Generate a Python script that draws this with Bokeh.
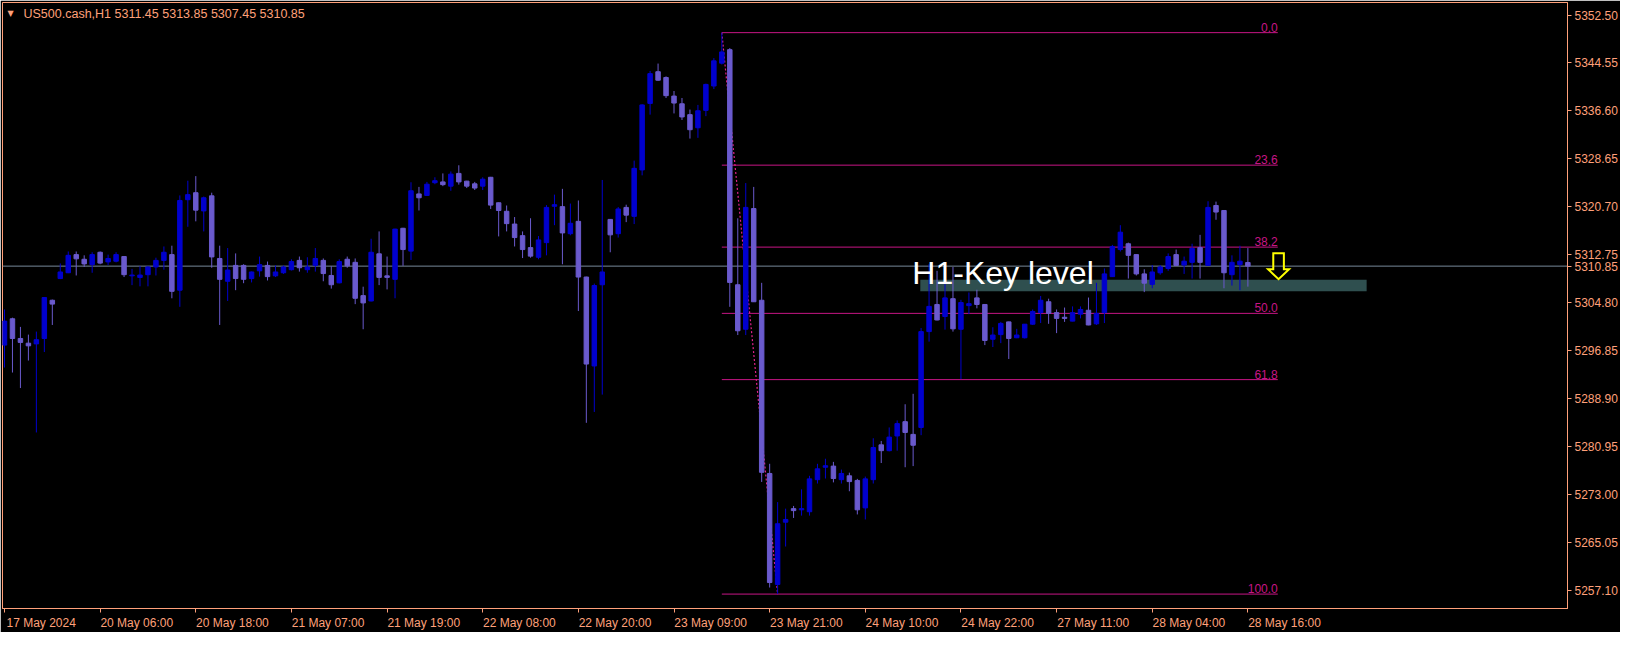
from bokeh.plotting import figure
from bokeh.models import ColumnDataSource, FixedTicker, Range1d, NumeralTickFormatter, Span
from bokeh.embed import file_html
from bokeh.resources import INLINE
from bokeh.core.properties import value

# ---------------- data ----------------
symbol = "US500.cash,H1"

opens = [5297.75, 5302.12, 5298.85, 5298.07, 5297.95, 5298.85, 5305.19, 5308.79, 5309.75, 5312.76,
         5311.99, 5311.10, 5313.15, 5311.55, 5311.67, 5312.44, 5309.24, 5308.98, 5309.43, 5310.71,
         5311.80, 5312.76, 5306.86, 5321.87, 5323.03, 5320.01, 5322.51, 5312.12, 5308.34, 5310.97,
         5310.97, 5308.79, 5310.07, 5310.97, 5309.24, 5309.75, 5310.26, 5311.80, 5310.26, 5310.97,
         5311.80, 5309.30, 5308.08, 5311.99, 5311.48, 5305.96, 5305.07, 5312.89, 5309.24, 5308.66,
         5317.13, 5313.34, 5322.83, 5322.58, 5324.69, 5324.82, 5324.12, 5326.23, 5324.95, 5324.50,
         5324.12, 5325.59, 5321.36, 5319.95, 5317.83, 5315.91, 5313.92, 5312.32, 5314.75, 5320.78,
         5320.72, 5316.23, 5318.28, 5309.04, 5294.29, 5307.76, 5318.60, 5316.23, 5320.59, 5319.11,
         5326.81, 5337.84, 5343.10, 5342.14, 5339.06, 5337.78, 5335.98, 5333.80, 5336.69, 5340.73,
         5344.52, 5346.76, 5307.76, 5300.38, 5320.40, 5305.19, 5276.46, 5258.05, 5268.38, 5270.62,
         5270.43, 5270.11, 5275.43, 5277.49, 5277.68, 5275.43, 5276.07, 5275.30, 5270.75, 5275.43,
         5281.21, 5280.24, 5282.68, 5285.05, 5282.94, 5284.09, 5299.99, 5304.49, 5302.50, 5305.45,
         5300.38, 5304.30, 5305.58, 5304.49, 5298.72, 5299.49, 5301.60, 5298.97, 5298.97, 5301.22,
         5303.14, 5304.94, 5303.14, 5302.37, 5301.73, 5302.88, 5303.53, 5301.28, 5303.14, 5309.11,
         5313.60, 5314.56, 5312.76, 5309.56, 5307.82, 5309.75, 5310.46, 5312.76, 5311.03, 5311.48,
         5313.92, 5310.97, 5320.91, 5320.08, 5309.43, 5311.10, 5311.45]
highs = [5303.66, 5302.30, 5300.77, 5299.49, 5299.99, 5305.70, 5305.30, 5311.29, 5313.28, 5313.28,
         5312.64, 5313.15, 5313.28, 5312.76, 5313.15, 5312.50, 5310.39, 5310.84, 5310.84, 5312.25,
         5314.11, 5314.24, 5322.58, 5325.02, 5325.78, 5322.39, 5323.03, 5314.24, 5313.85, 5312.96,
         5311.16, 5309.95, 5312.44, 5311.61, 5310.97, 5310.97, 5311.99, 5312.44, 5312.32, 5313.85,
         5312.12, 5310.84, 5311.99, 5312.44, 5312.12, 5307.44, 5315.39, 5316.61, 5312.44, 5317.05,
         5317.20, 5324.76, 5323.99, 5324.82, 5325.59, 5326.23, 5326.55, 5327.58, 5325.00, 5324.82,
         5325.59, 5325.65, 5321.40, 5320.91, 5318.99, 5316.61, 5318.79, 5315.84, 5320.97, 5322.71,
         5323.67, 5321.23, 5321.74, 5309.10, 5307.95, 5325.14, 5318.65, 5320.65, 5321.04, 5328.35,
         5337.70, 5343.23, 5344.45, 5342.33, 5339.90, 5338.74, 5336.82, 5337.59, 5341.12, 5345.35,
         5349.58, 5347.02, 5318.79, 5324.63, 5323.99, 5308.08, 5278.06, 5271.71, 5270.62, 5271.07,
         5273.83, 5276.07, 5278.06, 5278.90, 5278.38, 5277.10, 5276.59, 5275.56, 5275.94, 5282.30,
         5281.85, 5284.09, 5285.25, 5287.94, 5289.67, 5300.58, 5311.22, 5310.07, 5308.47, 5310.71,
         5305.26, 5306.48, 5306.93, 5304.55, 5300.71, 5301.60, 5301.65, 5300.45, 5301.25, 5303.66,
         5305.90, 5305.45, 5303.66, 5303.98, 5304.17, 5304.17, 5305.64, 5308.08, 5310.46, 5314.37,
         5317.64, 5314.75, 5312.80, 5310.33, 5311.03, 5311.03, 5312.96, 5313.60, 5312.44, 5314.56,
         5316.04, 5321.61, 5321.55, 5320.10, 5312.64, 5314.24, 5313.85]
lows = [5294.03, 5293.20, 5290.63, 5295.19, 5283.26, 5296.60, 5301.09, 5308.70, 5309.70, 5309.30,
        5310.71, 5309.75, 5311.16, 5311.03, 5311.48, 5309.04, 5307.70, 5307.50, 5307.50, 5309.30,
        5310.26, 5305.52, 5304.10, 5317.38, 5318.28, 5316.61, 5310.58, 5301.09, 5305.07, 5306.86,
        5308.02, 5308.15, 5309.11, 5308.47, 5309.04, 5309.56, 5310.13, 5309.94, 5309.75, 5309.94,
        5308.34, 5307.12, 5308.00, 5310.58, 5304.55, 5300.38, 5305.00, 5307.70, 5306.99, 5305.52,
        5310.90, 5311.87, 5320.08, 5322.50, 5324.44, 5324.12, 5323.35, 5324.37, 5323.80, 5323.48,
        5323.48, 5320.33, 5315.78, 5316.61, 5314.11, 5312.19, 5312.25, 5311.99, 5312.64, 5317.64,
        5311.16, 5315.97, 5303.40, 5284.86, 5286.66, 5289.54, 5313.15, 5315.59, 5318.15, 5317.83,
        5325.91, 5335.98, 5341.60, 5338.74, 5336.18, 5335.09, 5332.01, 5332.13, 5335.73, 5340.22,
        5344.30, 5304.10, 5299.42, 5299.42, 5304.90, 5275.05, 5257.54, 5256.45, 5264.34, 5269.08,
        5269.47, 5269.47, 5274.79, 5275.62, 5274.98, 5274.79, 5273.51, 5269.66, 5268.83, 5274.79,
        5278.19, 5280.12, 5280.24, 5277.49, 5277.68, 5282.81, 5298.33, 5301.85, 5300.32, 5299.99,
        5292.11, 5302.88, 5303.85, 5297.75, 5297.43, 5298.08, 5295.45, 5298.90, 5298.85, 5301.09,
        5301.41, 5301.28, 5299.74, 5301.60, 5301.70, 5302.18, 5301.05, 5301.09, 5301.41, 5309.05,
        5313.28, 5308.79, 5309.30, 5306.54, 5307.18, 5309.43, 5310.07, 5310.90, 5309.56, 5308.79,
        5308.79, 5310.90, 5318.54, 5307.18, 5307.63, 5306.86, 5307.45]
closes = [5301.73, 5298.85, 5298.20, 5297.63, 5298.65, 5305.64, 5304.55, 5309.88, 5312.64, 5312.06,
          5311.22, 5312.76, 5311.35, 5312.12, 5312.76, 5309.43, 5309.37, 5309.37, 5310.71, 5311.80,
          5313.15, 5306.67, 5321.74, 5322.71, 5320.14, 5322.19, 5312.38, 5308.66, 5310.20, 5308.79,
          5308.66, 5309.88, 5311.10, 5309.11, 5309.88, 5310.71, 5311.61, 5310.58, 5310.71, 5312.12,
          5309.62, 5307.76, 5311.61, 5310.90, 5305.52, 5304.75, 5313.15, 5308.98, 5308.98, 5316.99,
          5313.60, 5323.35, 5322.19, 5324.44, 5325.02, 5324.37, 5326.11, 5324.82, 5324.12, 5323.80,
          5325.27, 5320.97, 5320.08, 5317.90, 5315.59, 5313.60, 5312.51, 5315.20, 5320.59, 5321.04,
          5316.36, 5317.96, 5309.04, 5294.61, 5307.63, 5309.88, 5316.04, 5320.33, 5319.31, 5327.07,
          5337.59, 5342.78, 5341.69, 5339.13, 5337.90, 5335.60, 5333.48, 5336.62, 5340.99, 5344.90,
          5346.38, 5308.15, 5300.13, 5320.59, 5304.94, 5276.65, 5258.37, 5268.12, 5268.83, 5270.30,
          5270.62, 5275.56, 5277.23, 5277.74, 5275.62, 5276.46, 5275.11, 5270.43, 5275.56, 5280.76,
          5280.24, 5282.49, 5284.73, 5283.26, 5281.14, 5299.99, 5304.17, 5301.92, 5305.58, 5300.45,
          5304.81, 5304.62, 5304.49, 5298.52, 5299.42, 5301.35, 5298.85, 5299.42, 5301.22, 5303.33,
          5305.19, 5303.01, 5302.18, 5302.18, 5303.14, 5303.66, 5301.09, 5303.01, 5309.56, 5314.11,
          5316.48, 5312.64, 5309.56, 5308.02, 5309.88, 5310.71, 5312.44, 5310.97, 5311.67, 5313.79,
          5311.48, 5320.59, 5319.82, 5309.75, 5311.48, 5311.67, 5310.85]

x_tick_bars = [0, 12, 24, 36, 48, 60, 72, 84, 96, 108, 120, 132, 144, 156]
x_tick_labels = ["17 May 2024", "20 May 06:00", "20 May 18:00", "21 May 07:00", "21 May 19:00",
                 "22 May 08:00", "22 May 20:00", "23 May 09:00", "23 May 21:00", "24 May 10:00",
                 "24 May 22:00", "27 May 11:00", "28 May 04:00", "28 May 16:00"]
y_ticks = [5257.10, 5265.05, 5273.00, 5280.95, 5288.90, 5296.85, 5304.80,
           5312.75, 5320.70, 5328.65, 5336.60, 5344.55, 5352.50]

fib_ratios = [0.0, 23.6, 38.2, 50.0, 61.8, 100.0]
fib_high_bar = 90          # bar of swing high (level 0)
fib_low_bar = 97           # bar of swing low (level 100)
fib_end_bar = 159.75       # right end of the Fibonacci lines

zone_bars = (114.9, 170.9)            # key-level rectangle, bar range
zone_prices = (5306.67, 5308.58)      # key-level rectangle, price range
key_text = "H1-Key level"
key_text_anchor = (113.9, 5309.65)
arrow_anchor = (159.85, 5313.0)       # top centre of the hollow arrow

view_bars = (-0.25, 196.1)
view_prices = (5254.06, 5354.58)

# ---------------- styling / layout ----------------
BG = "black"
SALMON = "#FFA07A"
BULL = "#0000CD"
BEAR = "#6A5ACD"
FIB = "#C71585"
FIB_DIAG = "#E0218A"
PRICE_LINE = "#778899"
ZONE = "#2F4F4F"
FONT = "Liberation Sans"
FRAME_W, FRAME_H = 1565, 606

p = figure(frame_width=FRAME_W, frame_height=FRAME_H,
           x_range=Range1d(*view_bars), y_range=Range1d(*view_prices),
           y_axis_location="right", output_backend="svg", toolbar_location=None,
           background_fill_color=BG, border_fill_color=BG,
           min_border_left=2, min_border_top=2, min_border_bottom=0, min_border_right=0)
p.outline_line_color = SALMON
p.outline_line_width = 1
p.grid.visible = False

px_per_bar = FRAME_W / (view_bars[1] - view_bars[0])
px_per_price = FRAME_H / (view_prices[1] - view_prices[0])

# x axis: MT-style labels start at the tick -> labels centred about half a label to the right
LABEL_SHIFT = 4.6
xa = p.xaxis[0]
xa.ticker = FixedTicker(ticks=[b + LABEL_SHIFT for b in x_tick_bars], minor_ticks=x_tick_bars)
xa.major_label_overrides = {b + LABEL_SHIFT: lab for b, lab in zip(x_tick_bars, x_tick_labels)}
xa.major_tick_line_color = None
xa.minor_tick_line_color = SALMON
xa.minor_tick_in = 0
xa.minor_tick_out = 4
xa.axis_line_color = SALMON
xa.major_label_text_color = SALMON
xa.major_label_text_font = FONT
xa.major_label_text_font_size = "12px"
xa.major_label_standoff = 1

# price scale: regular levels plus the current bid
ya = p.yaxis[0]
ya.ticker = FixedTicker(ticks=sorted(y_ticks + [closes[-1]]))
ya.formatter = NumeralTickFormatter(format="0.00")
ya.major_tick_line_color = SALMON
ya.major_tick_in = 0
ya.major_tick_out = 4
ya.minor_tick_line_color = None
ya.axis_line_color = SALMON
ya.major_label_text_color = SALMON
ya.major_label_text_font = FONT
ya.major_label_text_font_size = "12px"
ya.major_label_standoff = 3

# background objects: key zone, fib levels, diagonal
p.quad(left=[zone_bars[0]], right=[zone_bars[1]], bottom=[zone_prices[0]], top=[zone_prices[1]],
       fill_color=ZONE, line_color=None)

fib_hi = highs[fib_high_bar]
fib_lo = lows[fib_low_bar]
fib_levels = [fib_hi - r / 100.0 * (fib_hi - fib_lo) for r in fib_ratios]
fib_src = ColumnDataSource(dict(x0=[fib_high_bar] * len(fib_levels), x1=[fib_end_bar] * len(fib_levels),
                                y=fib_levels, label=[f"{r:.1f}" for r in fib_ratios]))
p.segment(x0="x0", y0="y", x1="x1", y1="y", source=fib_src, line_color=FIB, line_width=1)
p.text(x="x1", y="y", text="label", source=fib_src, text_align="right", text_baseline="bottom",
       y_offset=-1, text_color=FIB, text_font=value(FONT), text_font_size="12px")
p.line(x=[fib_high_bar, fib_low_bar], y=[fib_hi, fib_lo], line_color=FIB_DIAG, line_width=1.2,
       line_dash="2 2")

price_span = Span(location=closes[-1], dimension="width", line_color=PRICE_LINE, line_width=1)
price_span.level = "underlay"
p.add_layout(price_span)

# candles
idx = list(range(len(opens)))
src = ColumnDataSource(dict(
    x=idx,
    high=highs, low=lows,
    top=[max(o, c) for o, c in zip(opens, closes)],
    bottom=[min(o, c) for o, c in zip(opens, closes)],
    color=[BULL if c >= o else BEAR for o, c in zip(opens, closes)],
))
p.segment(x0="x", y0="low", x1="x", y1="high", source=src, line_color="color", line_width=1)
p.vbar(x="x", width=0.56, top="top", bottom="bottom", source=src,
       fill_color="color", line_color="color", line_width=1)

# annotations
p.text(x=[key_text_anchor[0]], y=[key_text_anchor[1]], text=[key_text], text_color="white",
       text_font=value(FONT), text_font_size="32px", text_baseline="alphabetic", text_align="left")

# hollow down arrow (shape given in pixels relative to its top centre)
ARROW_SHAPE_PX = [(-5.3, 0), (5.3, 0), (5.3, 16), (10.5, 16), (0, 26), (-10.5, 16), (-5.3, 16)]
p.patch(x=[arrow_anchor[0] + dx / px_per_bar for dx, dy in ARROW_SHAPE_PX],
        y=[arrow_anchor[1] - dy / px_per_price for dx, dy in ARROW_SHAPE_PX],
        fill_color=None, line_color="yellow", line_width=2, line_join="miter")

title = f"{symbol}  {opens[-1]:.2f} {highs[-1]:.2f} {lows[-1]:.2f} {closes[-1]:.2f}"
p.text(x=[view_bars[0]], y=[view_prices[1]], text=[title], x_offset=21, y_offset=11,
       text_color=SALMON, text_font=value(FONT), text_font_size="12.5px", text_baseline="middle")
p.text(x=[view_bars[0]], y=[view_prices[1]], text=["\u25bc"], x_offset=5, y_offset=11,
       text_color=SALMON, text_font=value("DejaVu Sans"), text_font_size="8px", text_baseline="middle")

open("out.html", "w").write(file_html(p, INLINE))
